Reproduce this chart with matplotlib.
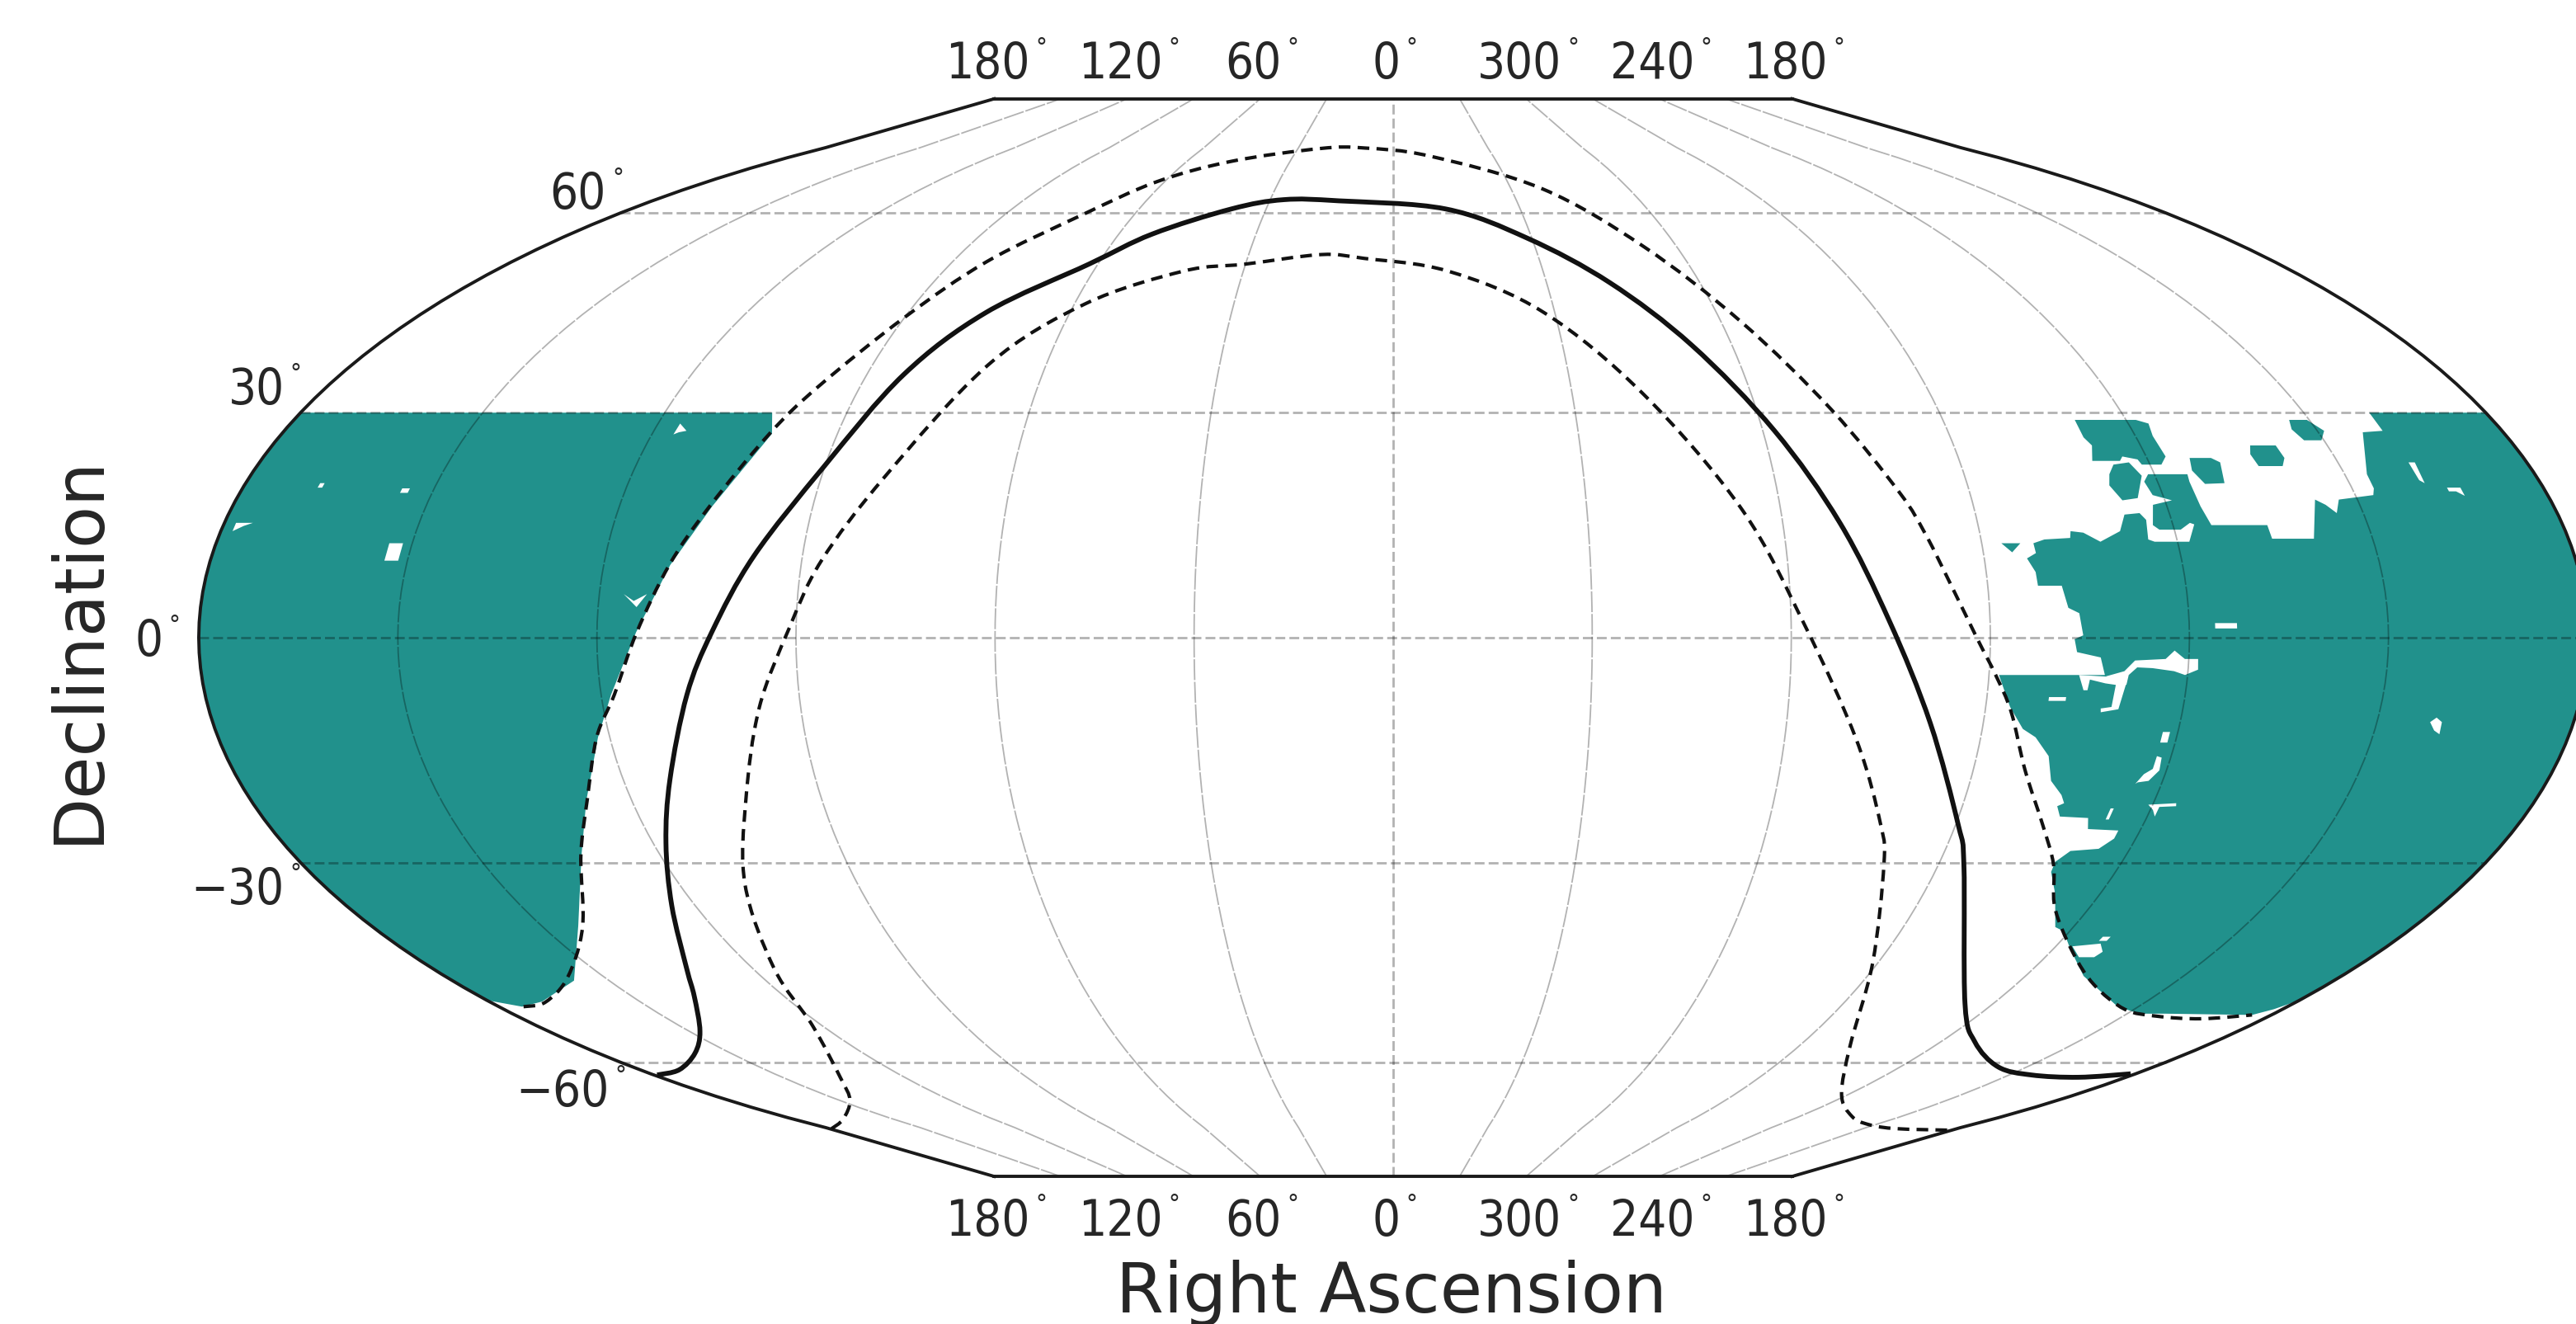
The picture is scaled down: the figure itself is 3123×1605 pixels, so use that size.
import numpy as np
import matplotlib
matplotlib.use('Agg')
import matplotlib.pyplot as plt
from matplotlib.path import Path
from matplotlib.patches import PathPatch

# sky map, right ascension / declination in degrees
ra_ticks = [180, 120, 60, 0, 300, 240, 180]
dec_ticks = [60, 30, 0, -30, -60]
dec_tick_text = ['60', '30', '0', '\u221230', '\u221260']

# galactic plane and the two lines at +-10 deg from it
plane_ra = [179.2, 170.6, 158.1, 147.7, 137.7, 132.4, 124.0, 117.9, 112.7, 107.0, 102.7, 97.4, 90.1, 83.7, 75.6, 61.8, 52.7, 38.2, 26.7, 13.2, 347.6, 330.9, 317.6, 307.1, 298.1, 291.2, 285.2, 278.1, 269.6, 265.8, 245.7, 232.6, 216.9, 204.6, 191.7, 181.2]
plane_dec = [-62.2, -61.3, -58.5, -54.9, -49.4, -45.2, -36.0, -27.3, -18.7, -7.5, 0.7, 10.7, 22.7, 35.3, 44.3, 51.7, 56.5, 60.7, 62.3, 62.1, 60.7, 55.8, 48.8, 39.5, 27.5, 15.1, 2.2, -11.2, -24.8, -30.3, -50.5, -56.6, -60.8, -62.2, -62.6, -62.0]
outer_ra = [175, 169, 157, 143, 133, 127, 122, 118, 114, 110, 106, 101, 97, 90, 83, 72, 62, 47, 23, 9, 349, 322, 307, 296.3, 287.6, 281, 278.4, 276, 272, 269, 266, 262, 256, 251, 246, 236, 225, 212, 203, 193, 184]
outer_dec = [-51.0, -50.3, -46.5, -39.1, -29.0, -21.5, -13.1, -7.5, 0.7, 9.6, 17.3, 27.1, 33.7, 43.6, 52.1, 59.7, 65.5, 69.3, 71.8, 71.9, 70.3, 64.2, 54.5, 42.9, 30.4, 19.2, 13.7, 7.9, -0.1, -4.9, -9.8, -17.4, -24.9, -30.3, -36.3, -42.7, -47.6, -51.4, -52.5, -52.9, -52.3]
inner_ra = [179.5, 165, 147, 136, 122, 116, 109, 102, 96.3, 91, 87, 80, 70, 58, 42, 30, 15, 6, 349, 332, 318, 306, 298, 289, 282, 279, 271, 259, 242, 225, 212, 199, 180.5]
inner_dec = [-72.2, -70.3, -66.7, -62.7, -54.0, -45.2, -33.1, -21.5, -9.2, 1.3, 10.1, 21.3, 36.7, 45.6, 50.6, 51.7, 53.2, 52.6, 50.6, 44.3, 32.5, 16.9, 1.7, -13.4, -24.8, -30.3, -44.3, -57.1, -65.6, -69.7, -71.4, -72.2, -72.5]

# survey footprint, west side
west_ra = [102.3, 100.6, 105.6, 109.9, 114.1, 118.5, 121.8, 127.2, 132.9, 143.5, 156.7, 169.4, 175.3]
west_dec = [30.0, 27.1, 17.3, 9.5, 0.7, -7.5, -13.1, -21.6, -29.0, -38.9, -47.0, -50.2, -51.0]

# survey footprint, east side
east_ra = [199.2, 199.4, 202.8, 206.5, 206.6, 207.2, 212.9, 214.1, 215.3, 216.6, 219.0, 225.4, 225.5, 234.1, 234.8, 235.0, 234.8, 241.0, 242.1, 241.6, 238.9, 242.1, 243.1, 242.3, 238.7, 239.8, 243.5, 244.4, 243.9, 244.6, 247.0, 248.4, 251.8, 254.1, 256.0, 256.3, 260.3, 262.1, 262.0, 263.5, 262.5, 262.4, 258.8, 258.1, 256.5, 256.0, 257.3, 256.9, 253.3, 252.5,
           268.5, 266.3, 263.8, 261.6, 258.9, 257.4, 255.0, 254.1, 255.0, 253.9, 249.3, 248.5, 243.5, 243.5, 245.1, 249.5, 251.0, 250.7, 247.6, 243.2, 241.1, 236.9, 229.0, 214.2, 207.5, 202.2, 184.0, 181.8]
east_dec = [30.0, 27.5, 27.3, 21.6, 19.7, 18.8, 18.2, 16.4, 17.5, 18.2, 13.0, 13.0, 14.8, 14.8, 17.3, 20.6, 21.6, 21.6, 20.6, 18.8, 18.1, 17.5, 14.8, 14.2, 14.2, 12.6, 12.6, 12.9, 15.5, 16.4, 16.2, 14.0, 12.6, 13.8, 14.0, 13.1, 12.9, 12.4, 11.1, 10.4, 8.6, 6.8, 6.8, 3.9, 3.2, 0.3, -0.2, -1.9, -2.6, -4.9,
            -4.9, -9.1, -12.0, -13.1, -15.6, -18.9, -20.8, -21.9, -22.3, -23.7, -23.9, -25.4, -25.6, -26.7, -28.1, -28.4, -29.9, -31.3, -34.4, -39.1, -39.7, -42.3, -46.3, -51.0, -52.1, -52.1, -52.3, -51.4]

# patches that stand apart from the east side
islands = [
    ([248.4, 238.4, 236.7, 237.2, 236.9, 238.2, 241.3, 241.6, 243.8, 244.5, 248.9, 247.8, 248.5], [29.0, 29.0, 28.5, 26.8, 24.0, 22.9, 22.9, 23.6, 24.0, 23.4, 23.4, 25.5, 26.6]),
    ([245.8, 243.2, 242.1, 244.1, 246.6, 247.8, 247.1], [22.9, 23.2, 21.4, 18.4, 18.1, 20.1, 21.6]),
    ([213.3, 210.4, 208.9, 210.4, 213.2, 214.0], [29.0, 29.0, 27.5, 26.2, 26.2, 27.7]),
    ([222.4, 218.3, 218.1, 219.1, 222.9, 223.2], [25.5, 25.5, 23.8, 22.7, 22.7, 24.3]),
    ([233.2, 229.8, 228.7, 229.6, 232.7, 233.8], [23.8, 23.8, 23.2, 20.4, 20.3, 22.1]),
    ([267.0, 264.1, 265.6], [12.4, 12.4, 11.2]),
]

# gaps inside the footprint
gaps = [
    ([248.1, 243.5, 242.2, 240.6, 238.6, 238.5, 240.4, 242.1, 245.4, 247.7, 248.9, 249.1, 250.1, 252.4, 249.6], [-3.0, -2.8, -1.7, -2.8, -2.8, -4.2, -4.9, -4.4, -4.0, -3.9, -4.9, -6.2, -6.0, -5.1, -4.4]),
    ([256.4, 252.4, 249.1, 249.8, 252.4, 252.5, 250.9, 250.7, 252.3, 254.7, 254.9, 255.5], [-4.9, -5.1, -5.8, -9.4, -9.8, -9.3, -9.1, -6.2, -6.0, -5.5, -6.9, -6.9]),
    ([239.4, 237.3, 236.7, 238.2, 239.8], [14.0, 15.1, 14.9, 12.6, 12.6]),
    ([198.8, 197.8, 198.2, 198.8], [23.2, 23.2, 20.4, 20.8]),
    ([237.0, 232.4, 230.5, 231.0, 233.8], [-41.9, -41.5, -42.7, -43.5, -43.5]),
    ([244.1, 243.3, 242.2, 242.2, 241.4, 241.1, 242.2, 243.8], [-19.3, -18.0, -17.3, -15.6, -15.8, -17.5, -18.9, -19.1]),
    ([240.7, 236.4, 236.2, 238.8, 238.8, 239.6], [-22.1, -21.9, -22.3, -22.4, -23.7, -22.8]),
    ([201.9, 201.1, 200.1, 199.9, 200.9], [-11.1, -10.5, -11.1, -12.7, -12.2]),
    ([236.1, 232.8, 232.8, 236.1], [1.9, 1.9, 1.2, 1.2]),
    ([195.1, 193.0, 193.0, 194.0, 195.1], [19.8, 19.8, 18.7, 19.3, 19.3]),
    ([260.6, 258.0, 258.0, 260.6], [-7.8, -7.8, -8.3, -8.3]),
    ([242.3, 241.2, 241.2, 242.3], [-12.4, -12.4, -13.8, -13.8]),
    ([246.4, 245.9, 245.9, 246.4], [-22.6, -22.6, -24.1, -24.1]),
    ([233.2, 231.8, 231.8, 233.2], [-40.5, -40.5, -41.1, -41.1]),
    ([151.4, 153.5, 153.5, 151.4], [12.4, 12.4, 10.1, 10.1]),
    ([178.2, 175.6, 176.8, 178.2], [15.1, 15.1, 14.7, 14.0]),
    ([155.0, 153.8, 153.8, 155.0], [19.7, 19.7, 19.1, 19.1]),
    ([168.3, 167.6, 167.6, 168.3], [20.4, 20.4, 19.8, 19.8]),
    ([116.5, 116.4, 114.7, 115.8], [27.0, 28.5, 27.5, 27.3]),
    ([116.3, 114.7, 112.8, 114.2], [5.7, 4.8, 5.7, 4.0]),
]

# the map stops short of the poles, with a flat edge
top_y = 0.9676
top_w = 0.334
edge_dec = np.arange(0, 73, 2)
side_dec = np.arange(-50, 31, 2)
teal = '#21918c'


def mollweide(ra, dec):
    ra = np.asarray(ra, dtype=float)
    lat = np.radians(np.asarray(dec, dtype=float))
    lon = np.where(ra > 180, ra - 360, ra)
    t = lat.copy()
    for i in range(30):
        t = t - (2 * t + np.sin(2 * t) - np.pi * np.sin(lat)) / (2 + 2 * np.cos(2 * t))
    return lon / 180 * np.cos(t), np.sin(t)


def meridian(lon):
    # from the flat bottom edge to the flat top edge
    decs = np.concatenate((-edge_dec[:0:-1], edge_dec))
    x, y = mollweide(np.full(decs.size, lon), decs)
    f = lon if lon <= 180 else lon - 360
    x = np.concatenate(([f / 180 * top_w], x, [f / 180 * top_w]))
    y = np.concatenate(([-top_y], y, [top_y]))
    return x, y


def draw_curve(ax, ra, dec, **kw):
    # bezier through the read points, so the line stays round between them
    x, y = mollweide(ra, dec)
    p = np.column_stack((x, y))
    verts = [p[0]]
    for i in range(len(p) - 1):
        a = p[max(i - 1, 0)]
        d = p[min(i + 2, len(p) - 1)]
        verts += [p[i] + (p[i + 1] - a) / 6, p[i + 1] - (d - p[i]) / 6, p[i + 1]]
    codes = [Path.MOVETO] + [Path.CURVE4] * (len(verts) - 1)
    ax.add_patch(PathPatch(Path(verts, codes), fill=False, capstyle='butt', **kw))


fig = plt.figure(figsize=(31.23, 16.05), dpi=100)
ax = fig.add_axes([0, 0, 1, 1])
ax.set_xlim(1.1664, -0.9903)
ax.set_ylim(-1.2326, 1.145)
ax.axis('off')

# footprint
x, y = mollweide(west_ra + [180.0] * len(side_dec), west_dec + list(side_dec))
ax.fill(x, y, color=teal, lw=0, zorder=1)
x, y = mollweide(east_ra + [180.01] * len(side_dec), east_dec + list(side_dec))
ax.fill(x, y, color=teal, lw=0, zorder=1)
for ra, dec in islands:
    x, y = mollweide(ra, dec)
    ax.fill(x, y, color=teal, lw=0, zorder=1)
for ra, dec in gaps:
    x, y = mollweide(ra, dec)
    ax.fill(x, y, color='white', lw=0, zorder=1.5)

# grid
grid = (0, 0, 0, 0.3)
for lon in range(30, 180, 30):
    for s in (lon, 360 - lon):
        x, y = meridian(s)
        ax.plot(x, y, color=grid, lw=1.3, ls=(0, (14, 1.2)), zorder=2)
x, y = meridian(0.0)
ax.plot(x, y, color=grid, lw=2, ls=(0, (4.3, 1.8)), zorder=2)
for d in dec_ticks:
    xl, yl = mollweide([180.0, 180.01], [d, d])
    ax.plot(xl, yl, color=grid, lw=2, ls=(0, (4.3, 1.8)), zorder=2)

# frame
for lon in (180.0, 180.01):
    x, y = meridian(lon)
    ax.plot(x, y, color='#1a1a1a', lw=2.8, zorder=3)
ax.plot([-top_w, top_w], [top_y, top_y], color='#1a1a1a', lw=2.8, zorder=3)
ax.plot([-top_w, top_w], [-top_y, -top_y], color='#1a1a1a', lw=2.8, zorder=3)

# galactic plane
draw_curve(ax, plane_ra, plane_dec, color='#111111', lw=4.2, zorder=4)
draw_curve(ax, outer_ra, outer_dec, color='#111111', lw=3, ls=(0, (3.4, 2.1)), zorder=4)
draw_curve(ax, inner_ra, inner_dec, color='#111111', lw=3, ls=(0, (3.4, 2.1)), zorder=4)

# labels
tick_font = dict(family='DejaVu Sans', stretch='condensed', fontsize=43, color='#262626')


def tick_label(xy, txt, coords, ha, off):
    t = ax.annotate(txt, xy=xy, xycoords=coords, xytext=(off, 0), textcoords='offset points',
                    ha=ha, va='center', **tick_font)
    ax.annotate('\u00b0', xy=(1, 0.85), xycoords=t, xytext=(5, 0), textcoords='offset points',
                ha='left', va='center', fontsize=20, color='#262626')


ra_x = [top_w, top_w * 2 / 3, top_w / 3, 0, -top_w / 3, -top_w * 2 / 3, -top_w]
for xt, r in zip(ra_x, ra_ticks):
    tick_label((xt, 1.029), str(r), 'data', 'center', -6)
    tick_label((xt, -1.049), str(r), 'data', 'center', -6)
dec_px = [(369, 119), (173, 238), (99, 391), (173, 542), (371, 665)]
for (px, py), t in zip(dec_px, dec_tick_text):
    tick_label((px / 1568, 1 - py / 806), t, 'axes fraction', 'right', 0)
ax.text(847 / 1568, 1 - 787 / 806, 'Right Ascension', ha='center', va='center', transform=ax.transAxes,
        fontsize=60, color='#262626')
ax.text(48 / 1568, 1 - 395 / 806, 'Declination', ha='center', va='center', rotation=90, transform=ax.transAxes,
        fontsize=60, color='#262626')

fig.savefig('out.png', dpi=100)
